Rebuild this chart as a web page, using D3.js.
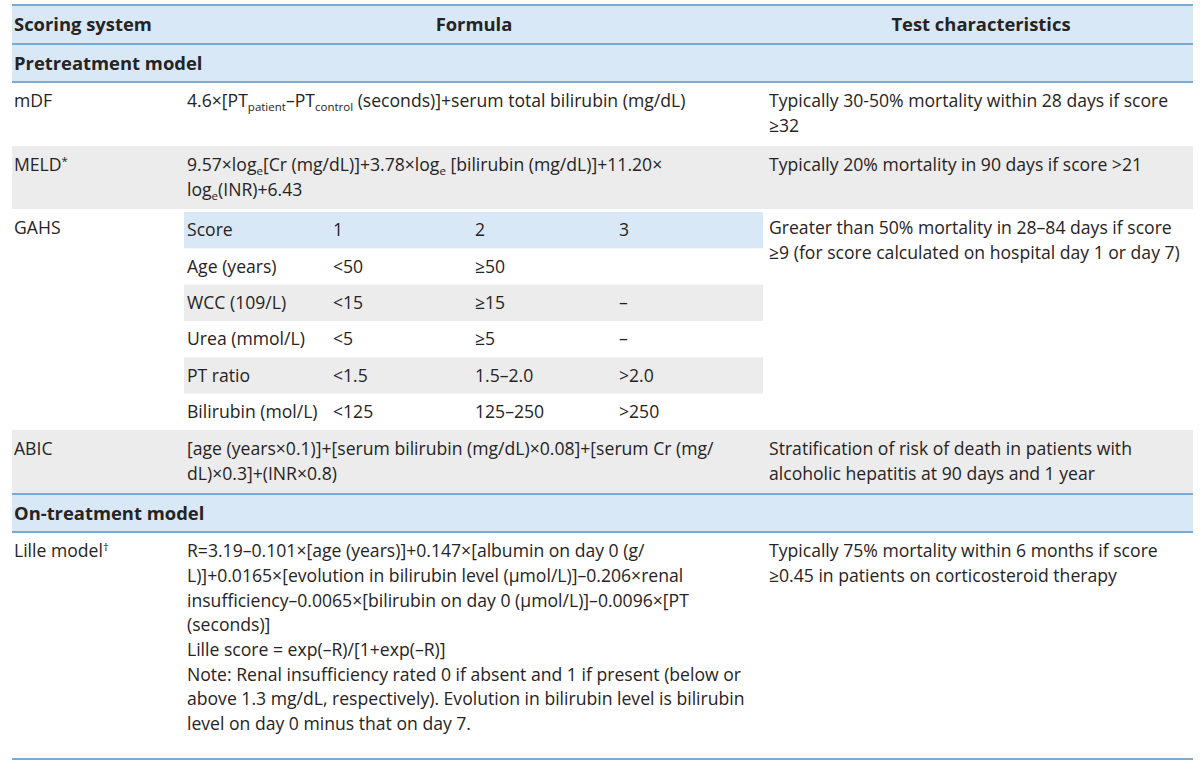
<!DOCTYPE html>
<html>
<head>
<meta charset="utf-8">
<script src="https://cdn.jsdelivr.net/npm/d3@7"></script>
<style>
  body { margin: 0; background: #fff; }
  svg text { font-family: "Open Sans", "Noto Sans", sans-serif; fill: #262324; }
</style>
</head>
<body>
<svg id="table"></svg>
<script>
// table content
var headerLabels = ["Scoring system", "Formula", "Test characteristics"];
var sectionLabels = ["Pretreatment model", "On-treatment model"];
var systems = ["mDF", "MELD^{*}", "GAHS", "ABIC", "Lille model^{†}"];
var systemSection = [0, 0, 0, 0, 1];
var formulas = [
    ["4.6×[PT_{patient}–PT_{control} (seconds)]+serum total bilirubin (mg/dL)"],
    ["9.57×log_{e}[Cr (mg/dL)]+3.78×log_{e} [bilirubin (mg/dL)]+11.20×", "log_{e}(INR)+6.43"],
    null,
    ["[age (years×0.1)]+[serum bilirubin (mg/dL)×0.08]+[serum Cr (mg/", "dL)×0.3]+(INR×0.8)"],
    ["R=3.19–0.101×[age (years)]+0.147×[albumin on day 0 (g/",
     "L)]+0.0165×[evolution in bilirubin level (μmol/L)]–0.206×renal",
     "insufficiency–0.0065×[bilirubin on day 0 (μmol/L)]–0.0096×[PT",
     "(seconds)]",
     "Lille score = exp(–R)/[1+exp(–R)]",
     "Note: Renal insufficiency rated 0 if absent and 1 if present (below or",
     "above 1.3 mg/dL, respectively). Evolution in bilirubin level is bilirubin",
     "level on day 0 minus that on day 7."]
];
var tests = [
    ["Typically 30-50% mortality within 28 days if score", "≥32"],
    ["Typically 20% mortality in 90 days if score >21"],
    ["Greater than 50% mortality in 28–84 days if score", "≥9 (for score calculated on hospital day 1 or day 7)"],
    ["Stratification of risk of death in patients with", "alcoholic hepatitis at 90 days and 1 year"],
    ["Typically 75% mortality within 6 months if score", "≥0.45 in patients on corticosteroid therapy"]
];
var gahsHeader = ["Score", "1", "2", "3"];
var gahsRows = [
    ["Age (years)", "<50", "≥50", ""],
    ["WCC (109/L)", "<15", "≥15", "–"],
    ["Urea (mmol/L)", "<5", "≥5", "–"],
    ["PT ratio", "<1.5", "1.5–2.0", ">2.0"],
    ["Bilirubin (mol/L)", "<125", "125–250", ">250"]
];

// layout
var W = 1200, H = 766;
var left = 12, right = 1193;
var top0 = 5;
var headH = 39, sectH = 38;
var rowH = [64, 63, 221, 64, 227];
var lineH = 24.7, firstLine = 19;
var fontSize = 17.6, boldSize = 18.4;
var blueFill = "#d9e8f6", greyFill = "#ececec", lineColor = "#7aaad6";

var colX = d3.scaleOrdinal().domain([0, 1, 2]).range([14, 187, 769]);
var colEdge = [left, 179, 763, right];
var subX = d3.scaleOrdinal().domain([0, 1, 2, 3]).range([187, 333, 475, 619]);

var svg = d3.select("#table").attr("width", W).attr("height", H);

// parse a string with _{sub} and ^{sup} markers into tspans
function richText(sel, str) {
    var parts = str.split(/(_\{[^}]*\}|\^\{[^}]*\})/).filter(function(p) { return p.length; });
    var shift = 0;
    parts.forEach(function(p) {
        var t = sel.append("tspan");
        var target = 0, txt = p, small = false;
        if (p[0] == "_") { target = 4; txt = p.slice(2, -1); small = true; }
        else if (p[0] == "^") { target = -6; txt = p.slice(2, -1); small = true; }
        if (target != shift) t.attr("dy", target - shift);
        shift = target;
        if (small) t.style("font-size", "11.5px");
        t.text(txt);
    });
}

function lines(g, arr, x, y0) {
    arr.forEach(function(s, i) {
        var t = g.append("text")
            .attr("x", x)
            .attr("y", y0 + firstLine + i * lineH + 6.2)
            .style("font-size", fontSize + "px");
        richText(t, s);
    });
}

var y = top0;

// header band
svg.append("rect").attr("x", left).attr("y", y).attr("width", right - left).attr("height", headH).attr("fill", blueFill);
headerLabels.forEach(function(h, i) {
    svg.append("text")
        .attr("x", i == 0 ? colX(0) : (colEdge[i] + colEdge[i + 1]) / 2 + 3)
        .attr("y", y + headH / 2 + 6.5)
        .attr("text-anchor", i == 0 ? "start" : "middle")
        .style("font-size", boldSize + "px")
        .style("font-weight", "bold")
        .text(h);
});
var hlines = [y];
y += headH;

var currentSection = -1;
systems.forEach(function(sys, i) {
    if (systemSection[i] != currentSection) {
        currentSection = systemSection[i];
        hlines.push(y);
        svg.append("rect").attr("x", left).attr("y", y).attr("width", right - left).attr("height", sectH).attr("fill", blueFill);
        svg.append("text")
            .attr("x", colX(0))
            .attr("y", y + sectH / 2 + 6.5)
            .style("font-size", boldSize + "px")
            .style("font-weight", "bold")
            .text(sectionLabels[currentSection]);
        y += sectH;
        hlines.push(y);
    }
    var g = svg.append("g");
    var shaded = (i == 1 || i == 3);
    if (shaded)
        g.append("rect").attr("x", left).attr("y", y).attr("width", right - left).attr("height", rowH[i]).attr("fill", greyFill);

    lines(g, [sys], colX(0), y);
    if (formulas[i]) {
        lines(g, formulas[i], colX(1), y);
    } else {
        // GAHS sub table
        var subTop = y + 3;
        var subH = (rowH[i] - 3) / (gahsRows.length + 1);
        var subY = d3.scaleBand().domain(d3.range(gahsRows.length + 1)).range([subTop, subTop + subH * (gahsRows.length + 1)]);
        var all = [gahsHeader].concat(gahsRows);
        all.forEach(function(r, j) {
            var fill = j == 0 ? blueFill : (j % 2 == 0 ? greyFill : null);
            if (fill)
                g.append("rect").attr("x", colEdge[1] + 5).attr("y", subY(j)).attr("width", colEdge[2] - colEdge[1] - 5).attr("height", subY.bandwidth()).attr("fill", fill);
            r.forEach(function(c, k) {
                g.append("text")
                    .attr("x", subX(k))
                    .attr("y", subY(j) + subY.bandwidth() / 2 + 6.2)
                    .style("font-size", fontSize + "px")
                    .text(c);
            });
        });
    }
    lines(g, tests[i], colX(2), y);
    y += rowH[i];
});
hlines.push(y);

svg.selectAll("line.rule")
    .data(hlines)
    .enter().append("line")
    .attr("class", "rule")
    .attr("x1", left).attr("x2", right)
    .attr("y1", function(d) { return d; })
    .attr("y2", function(d) { return d; })
    .attr("stroke", lineColor)
    .attr("stroke-width", 1.8);
</script>
</body>
</html>
